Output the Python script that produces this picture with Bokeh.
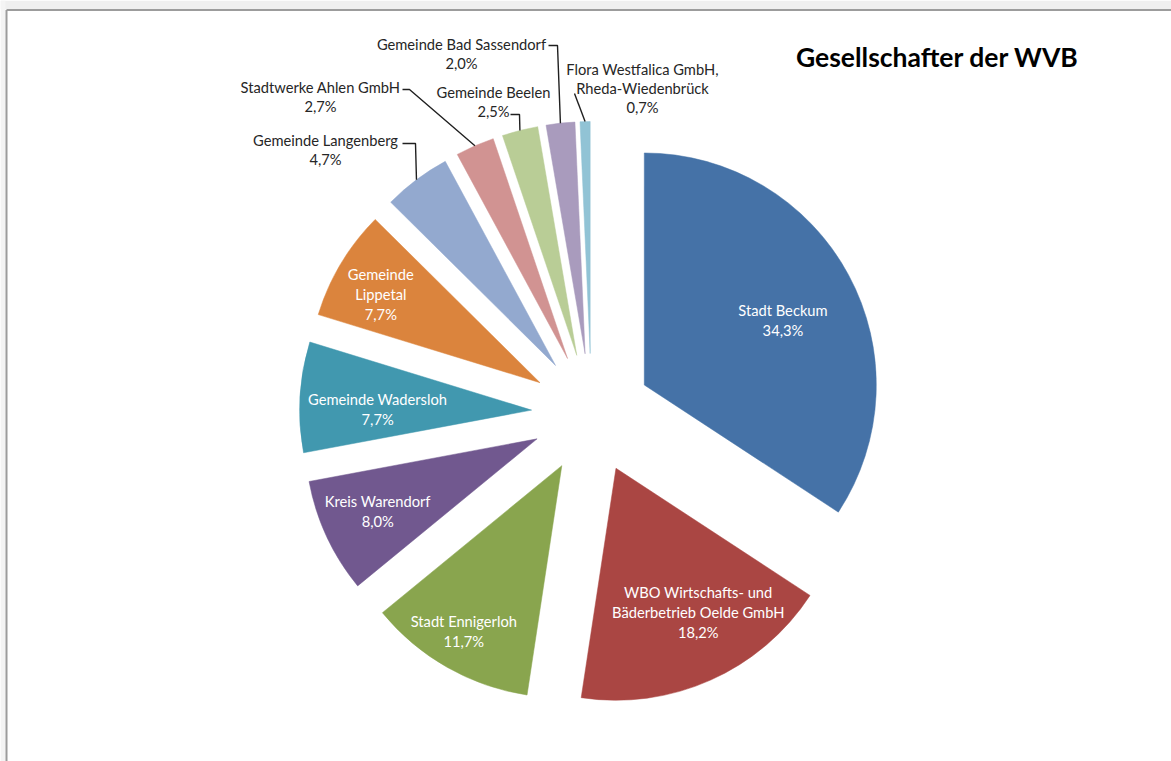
import math
from bokeh.plotting import figure
from bokeh.models import Range1d, ColumnDataSource
from bokeh.core.properties import value
from bokeh.embed import file_html
from bokeh.resources import INLINE

# ---------------- data ----------------
NAMES = ["Stadt Beckum", "WBO Wirtschafts- und Bäderbetrieb Oelde GmbH", "Stadt Ennigerloh",
         "Kreis Warendorf", "Gemeinde Wadersloh", "Gemeinde Lippetal", "Gemeinde Langenberg",
         "Stadtwerke Ahlen GmbH", "Gemeinde Beelen", "Gemeinde Bad Sassendorf",
         "Flora Westfalica GmbH, Rheda-Wiedenbrück"]
SHARES = [34.3, 18.2, 11.7, 8.0, 7.7, 7.7, 4.7, 2.7, 2.5, 2.0, 0.7]
LABEL_LINES = [["Stadt Beckum"], ["WBO Wirtschafts- und", "Bäderbetrieb Oelde GmbH"],
               ["Stadt Ennigerloh"], ["Kreis Warendorf"], ["Gemeinde Wadersloh"],
               ["Gemeinde", "Lippetal"], ["Gemeinde Langenberg"], ["Stadtwerke Ahlen GmbH"],
               ["Gemeinde Beelen"], ["Gemeinde Bad Sassendorf"],
               ["Flora Westfalica GmbH,", "Rheda-Wiedenbrück"]]
TITLE = "Gesellschafter der WVB"

# ---------------- style / layout ----------------
COLORS = ["#4572A7", "#AA4643", "#89A54E", "#71588F", "#4198AF", "#DB843D",
          "#93A9CF", "#D19392", "#B9CD96", "#A99BBD", "#91C3D5"]
CX, CY = 591, 413      # pie centre (screen px)
R = 232
EXPLODE = 60
FONT = "Lato"
LINE_H = 20
# inside labels: polar position (radius, angle clockwise from top) relative to slice tip
INNER = {0: (153, 65), 1: (166, 150.3), 2: (192, 210.7), 3: (175, 245.6),
         4: (154, 270.3), 5: (182, 299)}
# outside labels: centre x, y of first line, leader start + elbow
OUTER = {6: (325, 139, [(402, 143), (415, 143)]),
         7: (320, 86, [(402, 89), (409, 89)]),
         8: (493, 91, [(510, 114), (519, 114)]),
         9: (461, 43, [(548, 45), (557, 45)]),
         10: (642, 68, [(574, 93)])}

W, H = 1171, 761
p = figure(width=W, height=H, output_backend="svg", toolbar_location=None,
           x_range=Range1d(0, W), y_range=Range1d(-H, 0),
           min_border=0, outline_line_color=None)
p.axis.visible = False
p.xgrid.visible = False
p.ygrid.visible = False
p.background_fill_color = "white"
p.border_fill_color = "white"

# window frame
p.quad(left=[0], right=[W], top=[0], bottom=[-8.5], fill_color="#efefef", line_color=None)
p.quad(left=[0], right=[5], top=[0], bottom=[-H], fill_color="#f4f4f4", line_color=None)
p.line([6, W], [-9.5, -9.5], line_color="#9c9c9c", line_width=2)
p.line([6, 6], [-9.5, -H], line_color="#9c9c9c", line_width=2)

total = sum(SHARES)
cum = 0.0
tips = []
xs, ys, sa, ea = [], [], [], []
for v in SHARES:
    a0 = 2 * math.pi * cum / total
    a1 = 2 * math.pi * (cum + v) / total
    mid = (a0 + a1) / 2
    tx = CX + EXPLODE * math.sin(mid)
    ty = CY - EXPLODE * math.cos(mid)
    tips.append((tx, ty, mid))
    xs.append(tx)
    ys.append(-ty)
    sa.append(math.pi / 2 - a1)
    ea.append(math.pi / 2 - a0)
    cum += v

src = ColumnDataSource(dict(x=xs, y=ys, start=sa, end=ea, color=COLORS, name=NAMES))
p.wedge(x="x", y="y", radius=R, start_angle="start", end_angle="end",
        direction="anticlock", fill_color="color", line_color="color", line_width=0.5,
        source=src)

def pct(v):
    return ("%.1f" % v).replace(".", ",") + "%"

tx_l, ty_l, txt_l, col_l = [], [], [], []
for i, (r, ang) in INNER.items():
    tx, ty, _ = tips[i]
    a = math.radians(ang)
    lx = tx + r * math.sin(a)
    ly = ty - r * math.cos(a)
    lines = LABEL_LINES[i] + [pct(SHARES[i])]
    n = len(lines)
    for k, s in enumerate(lines):
        tx_l.append(lx)
        ty_l.append(-(ly + (k - (n - 1) / 2) * LINE_H))
        txt_l.append(s)
        col_l.append("white")

lead_x, lead_y = [], []
for i, (lx, ly0, pts) in OUTER.items():
    lines = LABEL_LINES[i] + [pct(SHARES[i])]
    for k, s in enumerate(lines):
        tx_l.append(lx)
        ty_l.append(-(ly0 + k * 19))
        txt_l.append(s)
        col_l.append("#262626")
    tx, ty, mid = tips[i]
    ex = tx + R * math.sin(mid)
    ey = ty - R * math.cos(mid)
    lead_x.append([q[0] for q in pts] + [ex])
    lead_y.append([-q[1] for q in pts] + [-ey])

p.multi_line(lead_x, lead_y, line_color="#202020", line_width=1.4)

p.text(x=tx_l, y=ty_l, text=txt_l, text_color=col_l, text_font=value(FONT),
       text_font_size="14.7px", text_align="center", text_baseline="middle")

p.text(x=[937], y=[-56], text=[TITLE], text_color="black", text_font=value(FONT),
       text_font_size="26.5px", text_font_style="bold", text_align="center",
       text_baseline="middle")

open("out.html", "w").write(file_html(p, INLINE))
